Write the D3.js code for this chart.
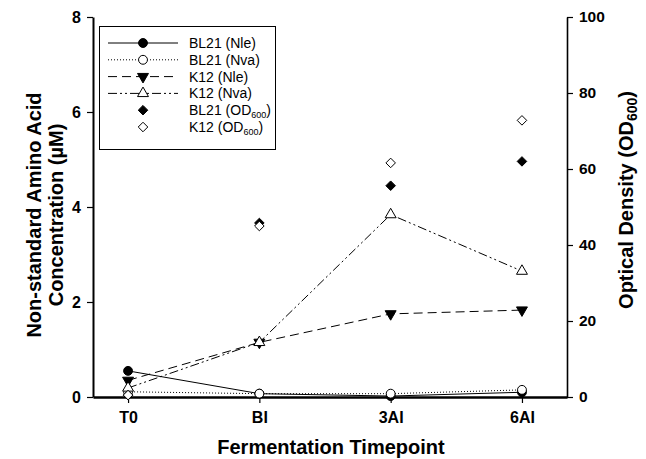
<!DOCTYPE html>
<html>
<head>
<meta charset="utf-8">
<script src="https://cdn.jsdelivr.net/npm/d3@7"></script>
<style>
  body { margin: 0; background: #fff; }
  text { font-family: "Liberation Sans", Arial, sans-serif; }
</style>
</head>
<body>
<div id="chart"></div>
<script>
// timepoints along the x axis
var timepoints = ["T0", "BI", "3AI", "6AI"];

// non-standard amino acids, uM (left axis)
var bl21Nle = [0.55, 0.07, 0.02, 0.10];
var bl21Nva = [0.11, 0.07, 0.07, 0.15];
var k12Nle  = [0.35, 1.15, 1.75, 1.83];
var k12Nva  = [0.19, 1.15, 3.84, 2.65];

// optical density OD600 (right axis)
var bl21OD = [0.5, 45.8, 55.6, 62.0];
var k12OD  = [0.5, 45.0, 61.6, 72.8];

var leftTicks  = [0, 2, 4, 6, 8];
var rightTicks = [0, 20, 40, 60, 80, 100];

var width = 646, height = 459;
var pLeft = 93, pRight = 567, pTop = 17, pBottom = 397;

var svg = d3.select("#chart").append("svg")
    .attr("width", width)
    .attr("height", height);

var x = d3.scaleLinear().domain([-0.267, 3.343]).range([pLeft, pRight]);
var yL = d3.scaleLinear().domain([0, 8]).range([pBottom, pTop]);
var yR = d3.scaleLinear().domain([0, 100]).range([pBottom, pTop]);

function styleAxis(g, w, fs) {
  g.select(".domain").attr("stroke-width", w).attr("stroke", "#000");
  g.selectAll(".tick line").attr("stroke-width", 1.2).attr("stroke", "#000");
  g.selectAll(".tick text")
    .attr("font-size", fs)
    .attr("font-weight", "bold")
    .attr("fill", "#000");
}

// axes
svg.append("g")
    .attr("transform", "translate(" + pLeft + ",0)")
    .call(d3.axisLeft(yL).tickValues(leftTicks).tickSize(6).tickSizeOuter(0).tickPadding(6))
    .call(styleAxis, 2, 16);

svg.append("g")
    .attr("transform", "translate(" + pRight + ",0)")
    .call(d3.axisRight(yR).tickValues(rightTicks).tickSize(6).tickSizeOuter(0).tickPadding(6))
    .call(styleAxis, 1.6, 15.5);

svg.append("g")
    .attr("transform", "translate(0," + pBottom + ")")
    .call(d3.axisBottom(x).tickValues(d3.range(timepoints.length))
      .tickFormat(function(i) { return timepoints[i]; })
      .tickSize(6).tickSizeOuter(0).tickPadding(9))
    .call(styleAxis, 2.4, 16);

// axis titles
svg.append("text")
    .attr("x", 331).attr("y", 454)
    .attr("text-anchor", "middle")
    .attr("font-size", 20).attr("font-weight", "bold")
    .text("Fermentation Timepoint");

var lt = svg.append("text")
    .attr("transform", "translate(41,215) rotate(-90)")
    .attr("text-anchor", "middle")
    .attr("font-size", 20).attr("font-weight", "bold");
lt.append("tspan").attr("x", 0).attr("dy", 0).text("Non-standard Amino Acid");
lt.append("tspan").attr("x", 0).attr("dy", 22).text("Concentration (\u00b5M)");

var rt = svg.append("text")
    .attr("transform", "translate(633,200) rotate(-90)")
    .attr("text-anchor", "middle")
    .attr("font-size", 20).attr("font-weight", "bold");
rt.append("tspan").text("Optical Density (OD");
rt.append("tspan").attr("font-size", 14).attr("dy", 4).text("600");
rt.append("tspan").attr("dy", -4).text(")");

// series
var series = [
  { name: "BL21 (Nle)", vals: bl21Nle, y: yL, dash: null, line: true, shape: "circle", fill: "#000" },
  { name: "BL21 (Nva)", vals: bl21Nva, y: yL, dash: "1,2", line: true, shape: "circle", fill: "#fff" },
  { name: "K12 (Nle)", vals: k12Nle, y: yL, dash: "9,5", line: true, shape: "down", fill: "#000" },
  { name: "K12 (Nva)", vals: k12Nva, y: yL, dash: "9,3,2,3,2,3", line: true, shape: "up", fill: "#fff" },
  { name: "BL21 (OD", sub: "600", vals: bl21OD, y: yR, dash: null, line: false, shape: "diamond", fill: "#000" },
  { name: "K12 (OD", sub: "600", vals: k12OD, y: yR, dash: null, line: false, shape: "diamond", fill: "#fff" }
];

var shapes = {
  circle: d3.symbol().type(d3.symbolCircle).size(62),
  down: d3.symbol().type(d3.symbolTriangle).size(52),
  up: d3.symbol().type(d3.symbolTriangle).size(52),
  diamond: d3.symbol().type(d3.symbolDiamond2).size(58)
};

function marker(g, s, cx, cy) {
  var rot = s.shape === "down" ? 180 : 0;
  g.append("path")
    .attr("d", shapes[s.shape]())
    .attr("transform", "translate(" + cx + "," + cy + ") rotate(" + rot + ")")
    .attr("fill", s.fill)
    .attr("stroke", "#000")
    .attr("stroke-width", 1);
}

var plot = svg.append("g");

series.forEach(function(s) {
  if (s.line) {
    var line = d3.line()
      .x(function(d, i) { return x(i); })
      .y(function(d) { return s.y(d); });
    plot.append("path")
      .attr("d", line(s.vals))
      .attr("fill", "none")
      .attr("stroke", "#000")
      .attr("stroke-width", 1)
      .attr("stroke-dasharray", s.dash);
  }
});

series.forEach(function(s) {
  s.vals.forEach(function(v, i) {
    marker(plot, s, x(i), s.y(v));
  });
});

// legend
var lg = svg.append("g");
lg.append("rect")
    .attr("x", 99.5).attr("y", 26.5)
    .attr("width", 176).attr("height", 123)
    .attr("fill", "#fff").attr("stroke", "#000").attr("stroke-width", 1);

series.forEach(function(s, i) {
  var ly = 43 + i * 16.8;
  if (s.line) {
    lg.append("line")
      .attr("x1", 108).attr("x2", 178)
      .attr("y1", ly).attr("y2", ly)
      .attr("stroke", "#000").attr("stroke-width", 1)
      .attr("stroke-dasharray", s.dash);
  }
  marker(lg, s, 143, ly);
  var t = lg.append("text")
    .attr("x", 189).attr("y", ly + 5)
    .attr("font-size", 14);
  t.append("tspan").text(s.name);
  if (s.sub) {
    t.append("tspan").attr("font-size", 9).attr("dy", 3).text(s.sub);
    t.append("tspan").attr("dy", -3).text(")");
  }
});
</script>
</body>
</html>
